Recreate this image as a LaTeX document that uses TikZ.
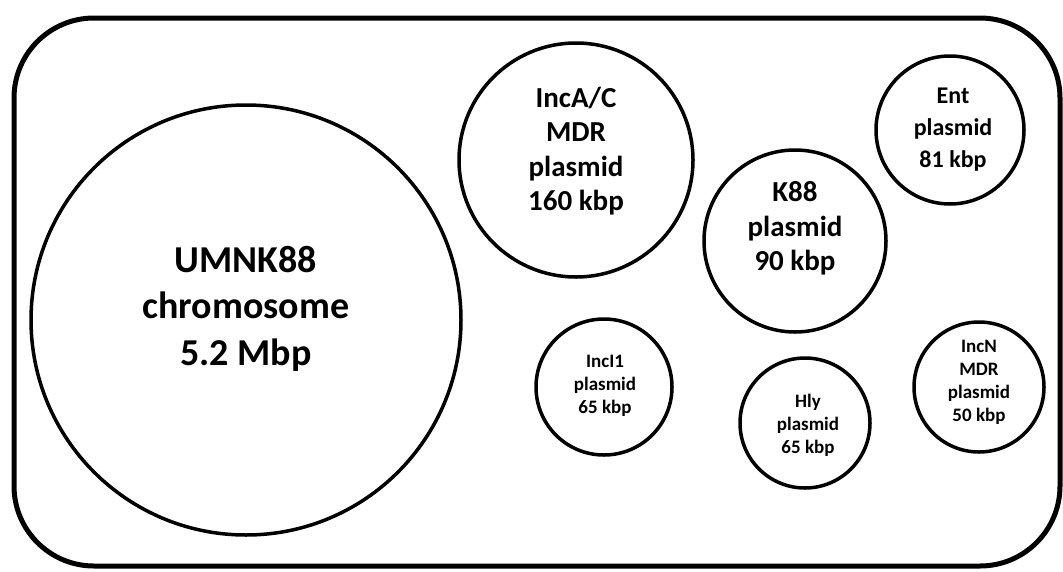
\documentclass[tikz,border=0pt]{standalone}
\usepackage{fontspec}
\setmainfont{Carlito}
\usetikzlibrary{positioning}

\begin{document}
\begin{tikzpicture}[x=1pt,y=-1pt]
  \tikzstyle{replicon}=[circle,draw=black,line width=3.5pt,inner sep=0pt]
  \tikzstyle{tag}=[align=center,inner sep=0pt]
  \tikzstyle{big}=[tag,font={\bfseries\fontsize{38}{46.5}\selectfont}]
  \tikzstyle{mid}=[tag,font={\bfseries\fontsize{29}{34.5}\selectfont}]
  \tikzstyle{ent}=[tag,font={\bfseries\fontsize{24}{32}\selectfont}]
  \tikzstyle{small}=[tag,font={\bfseries\fontsize{19}{23}\selectfont}]

  \useasboundingbox (0,0) rectangle (1063,571);
  % cell outline
  \draw[line width=5pt,rounded corners=80pt] (14,18) rectangle (1060,566);

  % replicons
  \node[replicon,minimum size=430pt] (chrom) at (246,320) {};
  \node[replicon,minimum size=234pt] (incac) at (576,160) {};
  \node[replicon,minimum size=182pt] (k88) at (795,241) {};
  \node[replicon,minimum size=148pt] (ent) at (950,130) {};
  \node[replicon,minimum size=136pt] (inci) at (604,387) {};
  \node[replicon,minimum size=130pt] (hly) at (805,423) {};
  \node[replicon,minimum size=130pt] (incn) at (979,387) {};

  % labels
  \node[big] (chromtxt) at (246,308.5) {UMNK88\\chromosome\\5.2 Mbp};
  \node[mid] (incactxt) at (576,151) {IncA/C\\MDR\\plasmid\\160 kbp};
  \node[mid] (k88txt) at (795,228.5) {K88\\plasmid\\90 kbp};
  \node[ent] (enttxt) at (953,130) {Ent\\plasmid\\81 kbp};
  \node[small] (incitxt) at (605,385.5) {IncI1\\plasmid\\65 kbp};
  \node[small] (hlytxt) at (808,425) {Hly\\plasmid\\65 kbp};
  \node[small] (incntxt) at (979,382) {IncN\\MDR\\plasmid\\50 kbp};
\end{tikzpicture}
\end{document}
